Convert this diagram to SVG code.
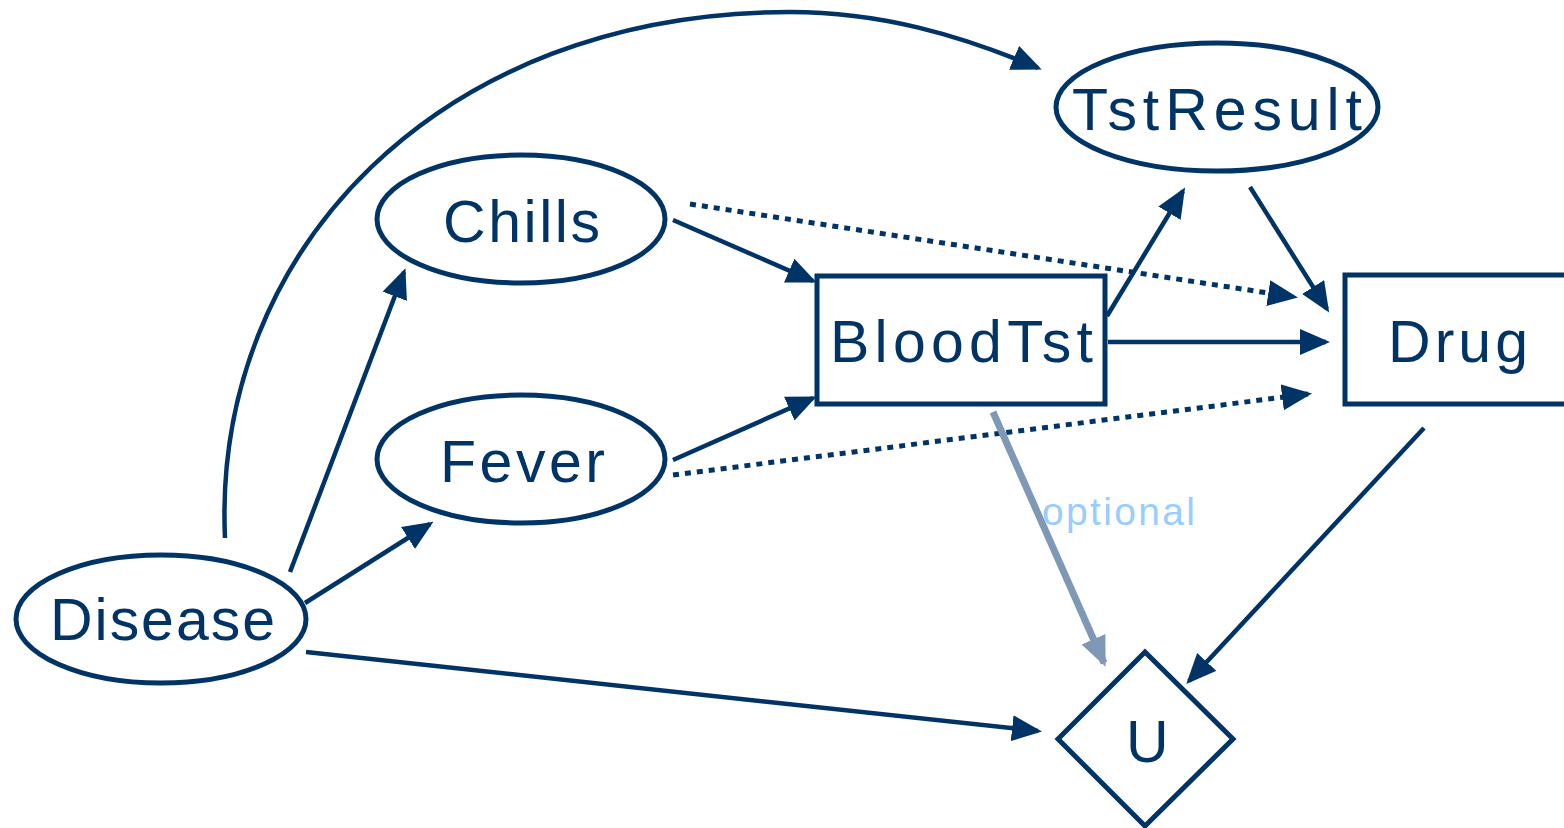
<svg xmlns="http://www.w3.org/2000/svg" width="1564" height="828" viewBox="0 0 1564 828">
<style>
.node{fill:#fff;stroke:#003366;stroke-width:5}
.lbl{font-family:"Liberation Sans","DejaVu Sans",sans-serif;font-size:59px;fill:#003366}
.edge{fill:none;stroke:#003366;stroke-width:4.5;marker-end:url(#ah)}
.dot{fill:none;stroke:#003366;stroke-width:5;stroke-dasharray:6 6;marker-end:url(#ah)}
.opt{fill:none;stroke:#7f98b6;stroke-width:7;marker-end:url(#ahg)}
.optlbl{font-family:"Liberation Sans","DejaVu Sans",sans-serif;font-size:39px;fill:#99ccff}
</style>
<defs>
<marker id="ah" markerUnits="userSpaceOnUse" markerWidth="32" markerHeight="28" refX="26" refY="13" orient="auto"><path d="M0,0 L30,13 L0,26 z" fill="#003366"/></marker>
<marker id="ahg" markerUnits="userSpaceOnUse" markerWidth="32" markerHeight="28" refX="26" refY="13" orient="auto"><path d="M0,0 L30,13 L0,26 z" fill="#7f98b6"/></marker>
</defs>
<rect width="1564" height="828" fill="#fff"/>
<g id="connectors">
<path class="edge" d="M225,538 C212,250 440,12 790,12 C880,12 960,35 1038,68"/>
<line class="edge" x1="290" y1="572" x2="404" y2="272"/>
<line class="edge" x1="305" y1="603" x2="430" y2="524"/>
<line class="edge" x1="306" y1="652" x2="1038" y2="731"/>
<line class="edge" x1="673" y1="220" x2="813" y2="281"/>
<line class="edge" x1="673" y1="460" x2="813" y2="398"/>
<line class="dot" x1="690" y1="204" x2="1294" y2="297"/>
<line class="dot" x1="673" y1="475" x2="1308" y2="394"/>
<line class="edge" x1="1107" y1="316" x2="1183" y2="191"/>
<line class="edge" x1="1108" y1="342" x2="1326" y2="342"/>
<line class="edge" x1="1250" y1="187" x2="1327" y2="309"/>
<line class="edge" x1="1424" y1="428" x2="1189" y2="681"/>
<line class="opt" x1="993" y1="412" x2="1104" y2="663"/>
</g>
<g id="Disease"><ellipse class="node" cx="161" cy="619" rx="145" ry="64"/><text class="lbl" x="50" y="640" textLength="225" lengthAdjust="spacing">Disease</text></g>
<g id="Chills"><ellipse class="node" cx="521" cy="219" rx="144" ry="64"/><text class="lbl" x="443" y="242" textLength="157" lengthAdjust="spacing">Chills</text></g>
<g id="Fever"><ellipse class="node" cx="521" cy="459" rx="144" ry="64"/><text class="lbl" x="440" y="482" textLength="165" lengthAdjust="spacing">Fever</text></g>
<g id="TstResult"><ellipse class="node" cx="1217" cy="107" rx="161" ry="64"/><text class="lbl" x="1072" y="130" textLength="290" lengthAdjust="spacing">TstResult</text></g>
<g id="BloodTst"><rect class="node" x="817" y="276" width="288" height="128"/><text class="lbl" x="830" y="362" textLength="263" lengthAdjust="spacing">BloodTst</text></g>
<g id="Drug"><rect class="node" x="1345" y="275" width="240" height="129"/><text class="lbl" x="1388" y="362" textLength="140" lengthAdjust="spacing">Drug</text></g>
<g id="U"><polygon class="node" points="1058,739 1145,652 1233,739 1145,826"/><text class="lbl" x="1126" y="762">U</text></g>
<text class="optlbl" x="1042" y="525" textLength="153" lengthAdjust="spacing">optional</text>
</svg>
